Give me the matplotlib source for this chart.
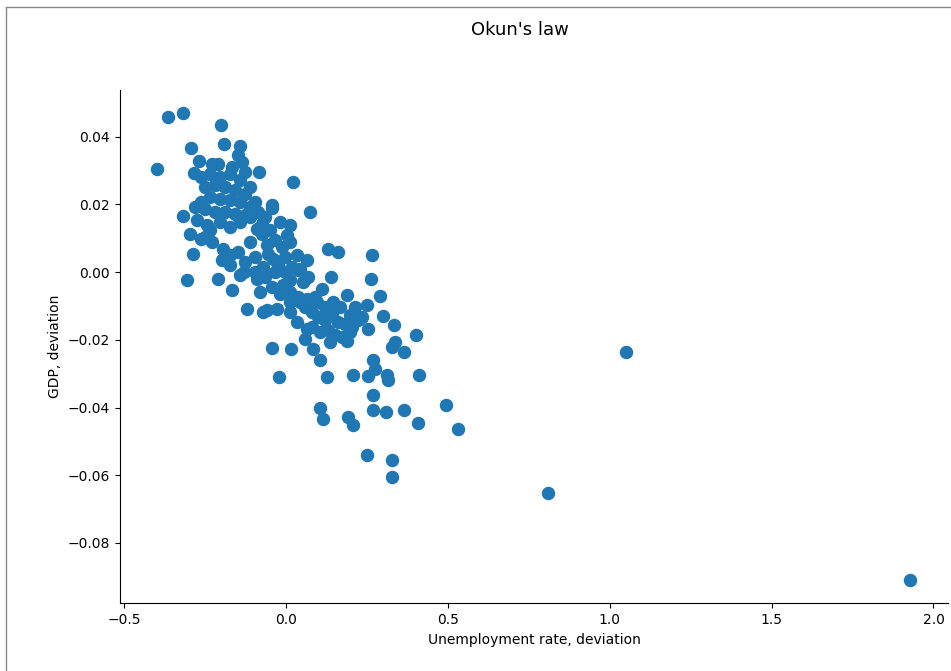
import matplotlib
matplotlib.use("Agg")
import matplotlib.pyplot as plt
from matplotlib.lines import Line2D

# unemployment rate deviation vs GDP deviation (quarterly)
unemp_dev = [
    -0.398, -0.367, -0.318, -0.201, -0.293, -0.191, -0.142, -0.148, -0.136, -0.269,
    -0.228, -0.210, -0.083, 0.022, -0.284, -0.043, 0.074, -0.096,
    -0.318, -0.275, -0.244, -0.296, -0.265, -0.228, -0.287, -0.306, -0.210, -0.167,
    -0.142, -0.173, -0.120, -0.071, -0.028, -0.043, -0.019, 0.012, 0.003, 0.034,
    0.043, -0.009, -0.080, -0.059, -0.142, -0.090, -0.111, -0.194, -0.173, -0.040,
    0.052, 0.065, 0.034, 0.065,
    -0.074, 0.130, 0.160, 0.265, 0.065, 0.037, 0.068, 0.139, 0.262, 0.290,
    0.250, 0.299, 0.333, 0.188, 0.111, 0.145, 0.198, 0.096, -0.059,
    0.253, 0.401, 0.336, 0.327, 0.364, 0.269, 0.275, 0.253, 0.312, 0.315,
    0.410, 0.207, 0.127, -0.022, 0.105, 0.188, -0.043, 0.015, 0.083, 0.269,
    0.105, 0.114, 0.191, 0.207, 0.269, 0.309, 0.364, 0.407, 0.494, 0.531,
    0.250, 0.327, 0.327, 0.809, 1.049, 1.929,
    -0.265, -0.235, -0.204, -0.173, -0.142, -0.111, -0.250, -0.219, -0.188, -0.157,
    -0.127, -0.265, -0.235, -0.204, -0.173, -0.142, -0.111, -0.281, -0.250, -0.219,
    -0.188, -0.157, -0.127, -0.204, -0.173, -0.235, -0.111, -0.167, -0.127,
    -0.086, -0.065, -0.074, -0.049, -0.034, -0.012, 0.012, -0.056, -0.025, -0.003,
    0.019, -0.096, -0.071, -0.127, -0.096, -0.065, -0.034, -0.003, 0.012, -0.043,
    -0.019, 0.012, 0.037,
    0.059, 0.080, 0.099, 0.120, 0.142, 0.160, 0.182, 0.204, 0.222, 0.080,
    0.105, 0.130, 0.151, 0.173, 0.198, 0.043, 0.012, 0.090, 0.120, 0.167,
    0.213, 0.235, 0.059, 0.136, 0.012,
    -0.250, -0.200, -0.150, -0.130, -0.090,
]
gdp_dev = [
    0.0304, 0.0457, 0.0469, 0.0434, 0.0366, 0.0378, 0.0372, 0.0345, 0.0324, 0.0327,
    0.0319, 0.0319, 0.0295, 0.0265, 0.0292, 0.0189, 0.0177, 0.0206,
    0.0165, 0.0153, 0.0139, 0.0112, 0.0097, 0.0088, 0.0053, -0.0024, -0.0021, -0.0053,
    -0.0009, 0.0021, -0.0109, -0.0118, -0.0109, 0.0198, 0.0147, 0.0139, 0.0109, 0.0050,
    0.0009, -0.0038, -0.0059, 0.0080, 0.0147, 0.0127, 0.0088, 0.0068, 0.0050, 0.0038,
    -0.0029, -0.0080, -0.0147, -0.0168,
    0.0142, 0.0068, 0.0059, 0.0050, 0.0035, 0.0006, -0.0015, -0.0015, -0.0021, -0.0071,
    -0.0097, -0.0130, -0.0156, -0.0068, -0.0050, -0.0088, -0.0127, -0.0088, -0.0112,
    -0.0168, -0.0186, -0.0206, -0.0221, -0.0236, -0.0260, -0.0286, -0.0307, -0.0304, -0.0319,
    -0.0304, -0.0304, -0.0310, -0.0310, -0.0260, -0.0204, -0.0224, -0.0227, -0.0227, -0.0363,
    -0.0401, -0.0434, -0.0428, -0.0451, -0.0407, -0.0413, -0.0407, -0.0445, -0.0392, -0.0463,
    -0.0540, -0.0555, -0.0605, -0.0652, -0.0236, -0.0909,
    0.0280, 0.0289, 0.0280, 0.0289, 0.0271, 0.0251, 0.0251, 0.0257, 0.0251, 0.0242,
    0.0230, 0.0206, 0.0221, 0.0215, 0.0212, 0.0206, 0.0192, 0.0192, 0.0186, 0.0177,
    0.0177, 0.0171, 0.0168, 0.0147, 0.0133, 0.0124, 0.0162, 0.0310, 0.0295,
    0.0177, 0.0162, 0.0112, 0.0124, 0.0094, 0.0074, 0.0088, 0.0053, 0.0024, 0.0044,
    0.0015, 0.0044, 0.0015, 0.0029, 0.0000, -0.0015, 0.0000, 0.0000, -0.0024, -0.0044,
    -0.0065, -0.0059, -0.0074,
    -0.0103, -0.0118, -0.0133, -0.0142, -0.0124, -0.0147, -0.0153, -0.0162, -0.0142, -0.0162,
    -0.0177, -0.0171, -0.0186, -0.0192, -0.0177, -0.0088, -0.0088, -0.0074, -0.0103, -0.0103,
    -0.0103, -0.0133, -0.0198, -0.0206, -0.0118,
    0.0105, 0.0035, 0.0060, 0.0000, -0.0020,
]

fig = plt.figure(figsize=(9.51, 6.71), dpi=100)
ax = fig.add_axes([0.126, 0.101, 0.871, 0.765])

ax.scatter(unemp_dev, gdp_dev, s=75, color="#1f77b4")
ax.spines["top"].set_visible(False)
ax.spines["right"].set_visible(False)
ax.set_xlabel("Unemployment rate, deviation")
ax.set_ylabel("GDP, deviation")

fig.suptitle("Okun's law", x=0.547, y=0.968, fontsize=13)

# thin frame on the top and left edges
fig.add_artist(Line2D([0.006, 1.0], [0.989, 0.989], transform=fig.transFigure,
                      color="#888888", lw=1))
fig.add_artist(Line2D([0.006, 0.006], [0.0, 0.989], transform=fig.transFigure,
                      color="#888888", lw=1))

fig.savefig("out.png", dpi=100)
